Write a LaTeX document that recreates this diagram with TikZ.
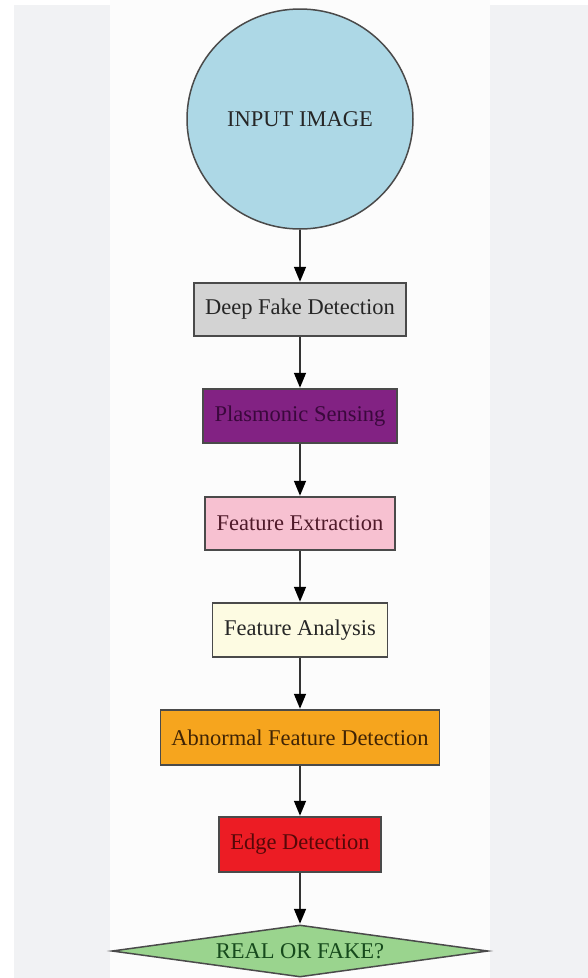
\documentclass[tikz,border=0pt]{standalone}
\usepackage{fontspec}
\setmainfont{Liberation Serif}
\usetikzlibrary{shapes.geometric,arrows.meta}
\definecolor{stripgray}{HTML}{F1F2F4}
\definecolor{pagewhite}{HTML}{FCFCFC}
\definecolor{edgegray}{HTML}{4A4A4A}
\definecolor{linegray}{HTML}{333333}
\definecolor{cblue}{HTML}{ADD8E6}
\definecolor{cgray}{HTML}{D3D3D3}
\definecolor{cpurple}{HTML}{822283}
\definecolor{cpink}{HTML}{F7C1D1}
\definecolor{civory}{HTML}{FDFBE2}
\definecolor{corange}{HTML}{F6A51E}
\definecolor{cred}{HTML}{EC1C24}
\definecolor{cgreen}{HTML}{9AD48E}
\definecolor{tpurple}{HTML}{3A083C}
\definecolor{tmaroon}{HTML}{501A2A}
\definecolor{tbrown}{HTML}{402405}
\definecolor{tdred}{HTML}{560808}
\definecolor{tgreen}{HTML}{164A1C}
\definecolor{tdark}{HTML}{262626}
\tikzset{
  stepbox/.style={draw=edgegray, line width=1.5pt, rectangle, inner sep=0pt,
    font=\fontsize{22.5}{26}\selectfont, text=tdark},
  flow/.style={draw=linegray, line width=1.6pt,
    -{Triangle[length=15pt,width=12pt,fill=black,color=black]}, shorten >=0.5pt}
}
\begin{document}
\begin{tikzpicture}[x=1pt,y=-1pt]
\useasboundingbox (0,0) rectangle (588,978);
\fill[white] (0,0) rectangle (588,978);
\fill[stripgray] (14,5) rectangle (110,978);
\fill[stripgray] (490,5) rectangle (588,978);
\fill[pagewhite] (110,0) rectangle (490,978);

\node[ellipse, draw=edgegray, line width=1.5pt, fill=cblue, minimum width=226pt, minimum height=220pt,
  inner sep=0pt, font=\fontsize{22.5}{26}\selectfont, text=tdark] (input) at (300,119) {INPUT IMAGE};
\node[stepbox, fill=cgray, minimum width=212pt, minimum height=53pt] (deep) at (300,309.5) {Deep Fake Detection};
\node[stepbox, fill=cpurple, text=tpurple, minimum width=194pt, minimum height=54pt] (plas) at (300,416) {Plasmonic Sensing};
\node[stepbox, fill=cpink, text=tmaroon, minimum width=190pt, minimum height=53pt] (fext) at (300,523.5) {Feature Extraction};
\node[stepbox, fill=civory, minimum width=175pt, minimum height=54pt] (fana) at (300,630) {Feature Analysis};
\node[stepbox, fill=corange, text=tbrown, minimum width=279pt, minimum height=55pt] (abn) at (300,737.5) {Abnormal Feature Detection};
\node[stepbox, fill=cred, text=tdred, minimum width=162pt, minimum height=55pt] (edge) at (300,844.5) {Edge Detection};
\node[diamond, draw=edgegray, line width=1.5pt, fill=cgreen, minimum width=376pt, minimum height=52pt,
  inner sep=0pt, aspect=7.2, font=\fontsize{22.5}{26}\selectfont, text=tgreen] (real) at (300,951) {REAL OR FAKE?};

\draw[flow] (input) -- (deep);
\draw[flow] (deep) -- (plas);
\draw[flow] (plas) -- (fext);
\draw[flow] (fext) -- (fana);
\draw[flow] (fana) -- (abn);
\draw[flow] (abn) -- (edge);
\draw[flow] (edge) -- (real);
\end{tikzpicture}
\end{document}
